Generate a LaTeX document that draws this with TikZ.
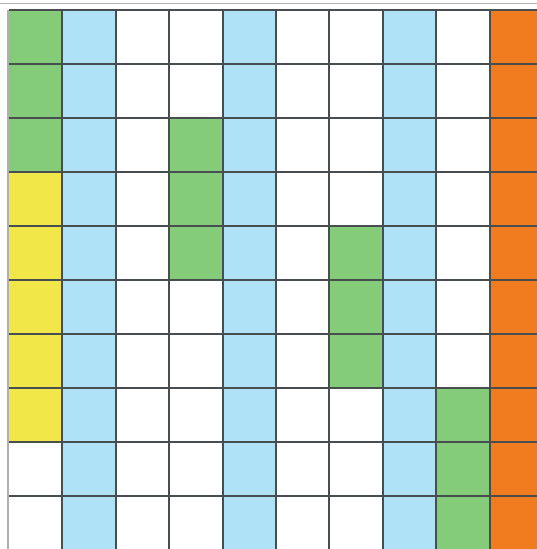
\documentclass[tikz,border=0pt]{standalone}
\definecolor{cgreen}{RGB}{133,204,122}
\definecolor{cblue}{RGB}{176,226,247}
\definecolor{cyellow}{RGB}{241,231,72}
\definecolor{corange}{RGB}{241,124,32}
\definecolor{cline}{RGB}{72,78,80}
\definecolor{cframe}{RGB}{175,175,175}
\tikzset{gridline/.style={draw=cline,line width=2pt},
  cellfill/.style={line width=0pt}}
\begin{document}
\begin{tikzpicture}[x=1pt,y=-1pt]
\useasboundingbox (0,0) rectangle (537,549);
\fill[white] (0,0) rectangle (537,549);
\def\cw{53.4}
\def\rh{54}
\def\xo{9}
\def\yo{10}
% helper: fill cell range col c, rows r1..r2 (1-based)
\newcommand\cellfill[4]{\fill[#4] ({\xo+(#1-1)*\cw},{\yo+(#2-1)*\rh}) rectangle ({\xo+#1*\cw},{\yo+#3*\rh});}
\cellfill{1}{1}{3}{cgreen}
\cellfill{1}{4}{8}{cyellow}
\cellfill{2}{1}{10}{cblue}
\cellfill{4}{3}{5}{cgreen}
\cellfill{5}{1}{10}{cblue}
\cellfill{7}{5}{7}{cgreen}
\cellfill{8}{1}{10}{cblue}
\cellfill{9}{8}{10}{cgreen}
\cellfill{10}{1}{10}{corange}
% faint outer frame
\draw[cframe,line width=0.8pt] (0,3) -- (537,3);
\draw[cframe,line width=2pt] (7.5,10) -- (7.5,549);
% grid lines
\foreach \i in {1,...,10} {
  \draw[gridline] ({\xo+\i*\cw},\yo) -- ({\xo+\i*\cw},549);
}
\foreach \j in {0,...,9} {
  \draw[gridline] (\xo,{\yo+\j*\rh}) -- (537,{\yo+\j*\rh});
}
\end{tikzpicture}
\end{document}
